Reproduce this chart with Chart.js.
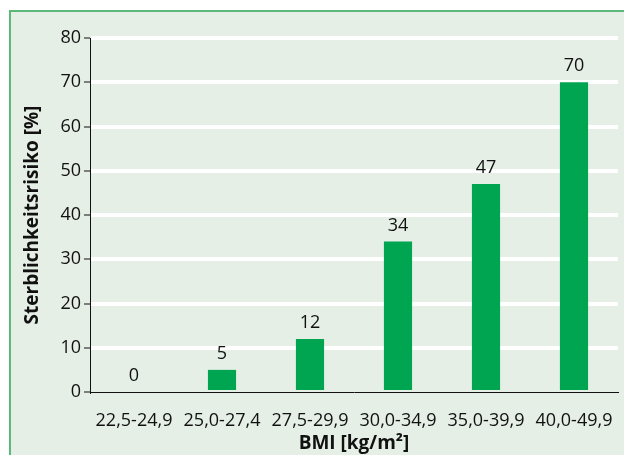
<!DOCTYPE html>
<html>
<head>
<meta charset="utf-8">
<script src="https://cdn.jsdelivr.net/npm/chart.js@4"></script>
<style>
  html, body { margin: 0; padding: 0; background: #fff; overflow: hidden; }
  #frame {
    position: absolute; left: 9px; top: 10px; width: 615px; height: 445px;
    box-sizing: border-box; border-top: 2px solid #5cb87a; border-left: 2px solid #5cb87a;
    background: #e5efe6;
  }
  #chart { position: absolute; left: 0; top: 0; }
</style>
</head>
<body>
<div id="frame"><canvas id="chart" width="613" height="443"></canvas></div>
<script>
var categories = ['22,5-24,9', '25,0-27,4', '27,5-29,9', '30,0-34,9', '35,0-39,9', '40,0-49,9'];
var riskValues = [0, 5, 12, 34, 47, 70];
var yTicks = [0, 10, 20, 30, 40, 50, 60, 70, 80];

var FONT = "'Open Sans', sans-serif";
var SIZE = 18;

// draw the value above each bar
var valueLabels = {
  id: 'valueLabels',
  afterDatasetsDraw: function(chart) {
    var ctx = chart.ctx;
    var meta = chart.getDatasetMeta(0);
    ctx.save();
    ctx.font = SIZE + 'px ' + FONT;
    ctx.fillStyle = '#111';
    ctx.textAlign = 'center';
    ctx.textBaseline = 'middle';
    meta.data.forEach(function(bar, i) {
      ctx.fillText(String(riskValues[i]), bar.x, bar.y - 16);
    });
    ctx.restore();
  }
};

var ctx = document.getElementById('chart').getContext('2d');
new Chart(ctx, {
  type: 'bar',
  data: {
    labels: categories,
    datasets: [{
      data: riskValues,
      backgroundColor: '#00a551',
      barPercentage: 0.32,
      categoryPercentage: 1
    }]
  },
  options: {
    responsive: false,
    animation: false,
    layout: { padding: { left: 0, right: 6, top: 26, bottom: 0 } },
    plugins: { legend: { display: false }, tooltip: { enabled: false } },
    scales: {
      x: {
        grid: { display: false },
        border: { color: '#111', width: 1 },
        ticks: { color: '#111', font: { family: FONT, size: SIZE }, padding: 10, maxRotation: 0, autoSkip: false },
        title: {
          display: true, text: 'BMI [kg/m²]', color: '#111',
          font: { family: FONT, size: 19, weight: 'bold' }, padding: { top: 2, bottom: 0 }
        },
        afterFit: function(scale) { scale.height = 63; }
      },
      y: {
        min: 0, max: 80,
        afterBuildTicks: function(scale) {
          scale.ticks = yTicks.map(function(v) { return { value: v }; });
        },
        grid: {
          color: function(c) { return c.tick && c.tick.value === 0 ? 'rgba(0,0,0,0)' : '#ffffff'; },
          lineWidth: 4,
          tickColor: '#111',
          tickWidth: 1,
          tickLength: 6
        },
        border: { color: '#111', width: 1 },
        ticks: { color: '#111', font: { family: FONT, size: SIZE }, padding: 3 },
        title: {
          display: true, text: 'Sterblichkeitsrisiko [%]', color: '#111',
          font: { family: FONT, size: 19, weight: 'bold' }, padding: { top: 10, bottom: 4 }
        },
        afterFit: function(scale) { scale.width = 79; }
      }
    }
  },
  plugins: [valueLabels]
});
</script>
</body>
</html>
